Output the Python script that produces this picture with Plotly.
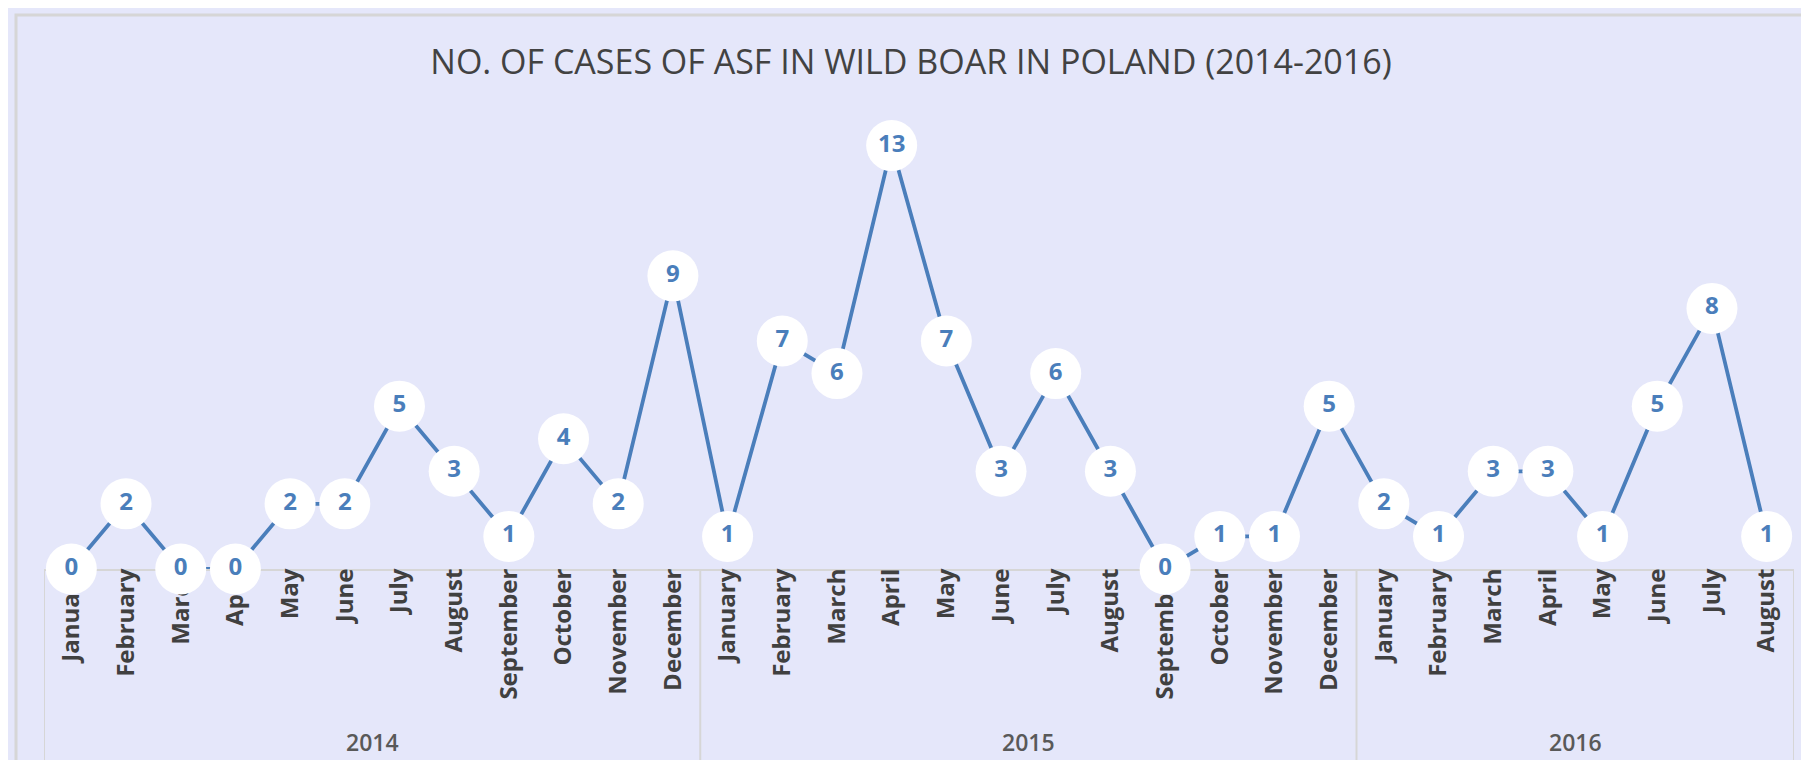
import plotly.graph_objects as go

months_2014 = ["January", "February", "March", "April", "May", "June", "July",
               "August", "September", "October", "November", "December"]
months_2015 = ["January", "February", "March", "April", "May", "June", "July",
               "August", "September", "October", "November", "December"]
months_2016 = ["January", "February", "March", "April", "May", "June", "July", "August"]
years = ["2014", "2015", "2016"]

cases_2014 = [0, 2, 0, 0, 2, 2, 5, 3, 1, 4, 2, 9]
cases_2015 = [1, 7, 6, 13, 7, 3, 6, 3, 0, 1, 1, 5]
cases_2016 = [2, 1, 3, 3, 1, 5, 8, 1]

title_text = "NO. OF CASES OF ASF IN WILD BOAR IN POLAND (2014-2016)"

month_labels = months_2014 + months_2015 + months_2016
values = cases_2014 + cases_2015 + cases_2016
idx = list(range(len(values)))
group_sizes = [len(months_2014), len(months_2015), len(months_2016)]

W, H = 1809, 760
ml, mr, mt, mb = 36, 23, 105, 199
plot_h = H - mt - mb
blue = "#4A7EBB"

fig = go.Figure()
fig.add_trace(go.Scatter(
    x=idx, y=values, mode="lines+markers+text",
    line=dict(color=blue, width=3.8),
    marker=dict(size=51, color="white", line=dict(width=0)),
    text=[str(v) for v in values], textposition="middle center",
    textfont=dict(family="Open Sans", size=24, color=blue, weight=700),
    cliponaxis=False, hoverinfo="skip", showlegend=False,
))

# group dividers and year labels
bottom_paper = -(752 - (H - mb)) / plot_h
edges = [-0.5]
for s in group_sizes:
    edges.append(edges[-1] + s)
for e in edges:
    fig.add_shape(type="line", xref="x", yref="paper", x0=e, x1=e, y0=0, y1=bottom_paper,
                  line=dict(color="#D6D6D6", width=2), layer="below")
year_y = -(734 - (H - mb)) / plot_h
for i, yr in enumerate(years):
    fig.add_annotation(x=(edges[i] + edges[i + 1]) / 2, y=year_y, xref="x", yref="paper",
                       text=yr, showarrow=False, yanchor="middle",
                       font=dict(family="Open Sans", size=23, color="#595959", weight=600))

# outer chart frame
def px_x(p):
    return (p - ml) / (W - ml - mr)

def px_y(p):
    return (H - mb - p) / plot_h

fig.add_shape(type="rect", xref="paper", yref="paper",
              x0=px_x(8), x1=px_x(W + 20), y0=px_y(7), y1=px_y(H + 20),
              line=dict(color="#D6D6D6", width=3), fillcolor="rgba(0,0,0,0)", layer="below")

fig.update_layout(
    width=W, height=H,
    margin=dict(l=ml, r=mr, t=mt, b=mb),
    paper_bgcolor="#E5E7FA", plot_bgcolor="#E5E7FA",
    title=dict(text=title_text, x=903 / W, xref="container", xanchor="center",
               y=1 - 54 / H, yref="container", yanchor="middle",
               font=dict(family="Open Sans", size=34, color="#424242")),
    xaxis=dict(range=[-0.5, len(values) - 0.5], tickmode="array", tickvals=idx,
               ticktext=month_labels, tickangle=-90, showgrid=False, zeroline=False,
               showline=True, linecolor="#D6D6D6", linewidth=2, ticks="",
               ticklabelstandoff=-12, layer="below traces",
               tickfont=dict(family="Open Sans", size=24, color="#404040", weight=700),
               fixedrange=True),
    yaxis=dict(range=[0, 14], visible=False, showgrid=False, zeroline=False, fixedrange=True),
)

fig.write_html("out.html")
